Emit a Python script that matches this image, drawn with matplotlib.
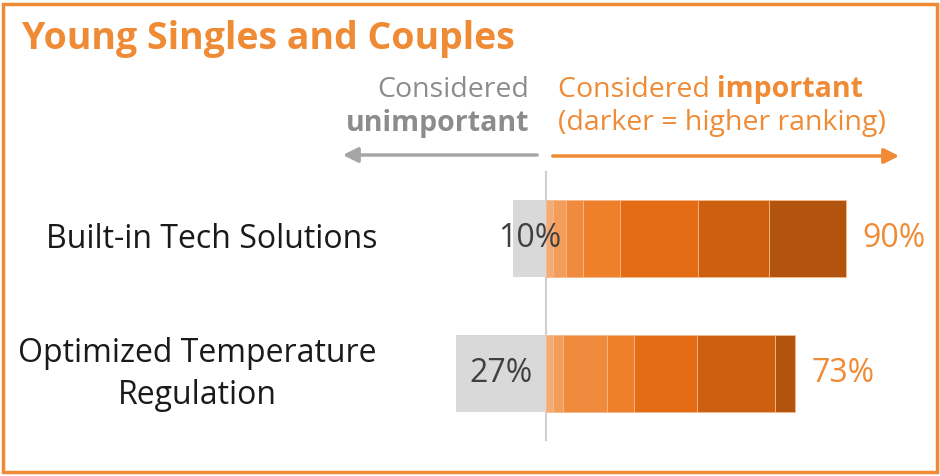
import matplotlib.pyplot as plt
from matplotlib.patches import Rectangle, FancyArrowPatch

plt.rcParams['font.family'] = ['Open Sans', 'DejaVu Sans']

categories = ["Built-in Tech Solutions", "Optimized Temperature\nRegulation"]
unimportant = [10, 27]
# ranking pieces, lightest (lowest rank) to darkest (highest rank)
important_parts = [
    [2.0, 4.0, 5.0, 11.0, 23.4, 21.1, 23.1],
    [2.0, 3.0, 13.1, 8.1, 19.0, 23.1, 6.0],
]
important_total = [90, 73]

rank_colors = ['#f5ab74', '#f39d5b', '#f08b3d', '#ee802c', '#e36c15', '#cc6010', '#b3540e']
orange = '#ef8a35'
grey_txt = '#8c8c8c'

W, H = 940, 476
fig = plt.figure(figsize=(W / 100, H / 100), dpi=100)

# bars axes covering the whole figure, zero at x=546px, 3.35 px per percent
ax = fig.add_axes([0, 0, 1, 1])
ppx = 3.35
x0 = 546
ax.set_xlim(-x0 / ppx, (W - x0) / ppx)
row_px = 135
top_px = 238.5
ax.set_ylim((H - top_px) / row_px, -top_px / row_px)
ax.axis('off')


def px(x, y):
    return x / W, 1 - y / H


bar_h = 77 / row_px
for i, cat in enumerate(categories):
    ax.barh(i, -unimportant[i], height=bar_h, color='#d9d9d9', linewidth=0)
    left = 0
    for j, v in enumerate(important_parts[i]):
        ax.barh(i, v, left=left, height=bar_h, color=rank_colors[j],
                edgecolor='#f7b98a', linewidth=0.6)
        left += v
    ax.text(-unimportant[i] / 2, i, f"{unimportant[i]}%", ha='center', va='center',
            fontsize=23, color='#404040')
    ax.annotate(f"{important_total[i]}%", (left, i), xytext=(12, 0), textcoords='offset points',
                ha='left', va='center', fontsize=23, color=orange)
    fig.text(377 / W, 1 - (top_px + 1 + i * row_px) / H, cat, ha='right', va='center', fontsize=23,
             color='#1a1a1a', multialignment='center', linespacing=1.38)

# zero line
ax.plot([0, 0], [(172 - top_px) / row_px, (440 - top_px) / row_px], color='#d0d0d0', lw=1.5, zorder=0.5)

# title
fig.text(*px(22, 39), "Young Singles and Couples", fontsize=27, fontweight='bold',
         color=orange, ha='left', va='center')

# header texts
fig.text(*px(529, 90), "Considered", fontsize=20.5, color=grey_txt, ha='right', va='center')
fig.text(*px(529, 123), "unimportant", fontsize=20.5, fontweight='bold', color=grey_txt,
         ha='right', va='center')
t1 = fig.text(*px(558, 90), "Considered ", fontsize=20.5, color=orange, ha='left', va='center')
fig.canvas.draw()
bb = t1.get_window_extent()
fig.text(bb.x1 / W, 1 - 90 / H, "important", fontsize=20.5, fontweight='bold', color=orange,
         ha='left', va='center')
fig.text(*px(558, 123), "(darker = higher ranking)", fontsize=20.5, color=orange,
         ha='left', va='center')

# arrows
fig.patches.append(FancyArrowPatch(px(540, 155), px(340, 155), transform=fig.transFigure,
                                   arrowstyle='-|>,head_length=9,head_width=4.5',
                                   color='#a6a6a6', lw=2.5, mutation_scale=1))
fig.patches.append(FancyArrowPatch(px(550, 156), px(902, 156), transform=fig.transFigure,
                                   arrowstyle='-|>,head_length=9,head_width=4.5',
                                   color=orange, lw=2.5, mutation_scale=1))

# border
fig.patches.append(Rectangle((3 / W, 4 / H), (W - 6) / W, (H - 8) / H, transform=fig.transFigure,
                             fill=False, edgecolor=orange, lw=2.5))

fig.savefig('out.png', dpi=100)
